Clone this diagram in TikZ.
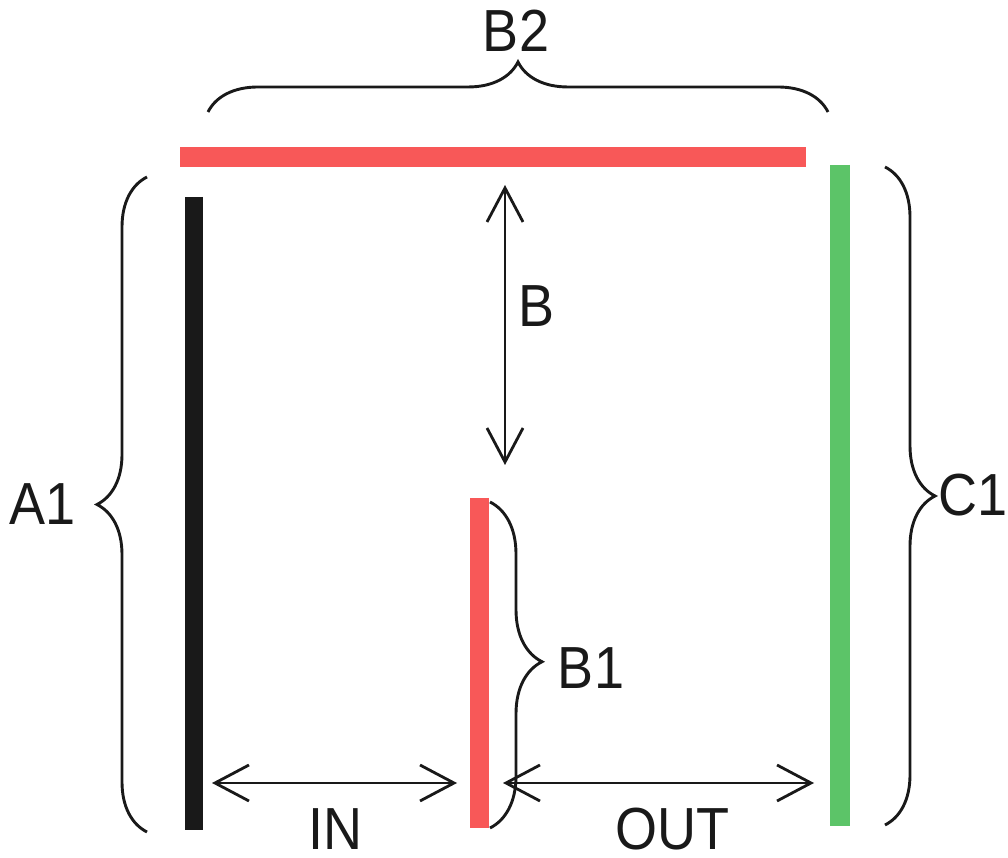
\documentclass[tikz,border=0pt]{standalone}
\usepackage{fontspec}
\setmainfont{Liberation Sans}
\usetikzlibrary{arrows.meta,decorations.pathreplacing}
\definecolor{barred}{RGB}{248,88,88}
\definecolor{bargreen}{RGB}{92,196,104}
\definecolor{ink}{RGB}{25,25,25}
\begin{document}
\begin{tikzpicture}[x=1pt,y=1pt,
  lbl/.style={inner sep=0pt,text=ink,font=\fontsize{54}{60}\selectfont},
  bar/.style={line width=20pt},
  curly/.style={draw=ink,line width=2.9pt,decorate,decoration={brace,amplitude=50pt,aspect=0.5}},
  dimarrow/.style={draw=ink,line width=2.8pt,{Straight Barb[length=34pt,width=36pt]}-{Straight Barb[length=34pt,width=36pt]}}
]
\useasboundingbox (0,0) rectangle (1008,858);
% bar end points
\coordinate (topL) at (180,701);
\coordinate (topR) at (806,701);
\coordinate (blkT) at (194,661);
\coordinate (blkB) at (194,28);
\coordinate (grnT) at (840,693);
\coordinate (grnB) at (840,32);
\coordinate (redT) at (479,360);
\coordinate (redB) at (479,30);
% bars
\draw[bar,barred] (topL) -- (topR);
\draw[bar,ink,line width=18pt] (blkT) -- (blkB);
\draw[bar,bargreen] (grnT) -- (grnB);
\draw[bar,barred,line width=19pt] (redT) -- (redB);
% brace ends
\coordinate (b2s) at (208,746);
\coordinate (b2e) at (828,746);
\coordinate (a1s) at (147,26);
\coordinate (a1e) at (147,681);
\coordinate (c1s) at (885,691);
\coordinate (c1e) at (885,33);
\coordinate (b1s) at (490,356);
\coordinate (b1e) at (490,30);
\draw[curly] (b2s) -- (b2e);
\draw[curly] (a1s) -- (a1e);
\draw[curly] (c1s) -- (c1e);
\draw[curly,decoration={brace,amplitude=52pt,aspect=0.49}] (b1s) -- (b1e);
% arrow end points
\coordinate (bT) at (505,673);
\coordinate (bB) at (505,393);
\coordinate (inL) at (212,75);
\coordinate (inR) at (457,75);
\coordinate (outL) at (503,75);
\coordinate (outR) at (814,75);
\draw[dimarrow] (bT) -- (bB);
\draw[dimarrow] (inL) -- (inR);
\draw[dimarrow] (outL) -- (outR);
% labels
\node[lbl] (lB2) at (516,827) {\scalebox{1}[1.1]{B2}};
\node[lbl] (lA1) at (43,354) {\scalebox{1}[1.1]{A1}};
\node[lbl] (lC1) at (973,363) {\scalebox{1}[1.1]{C1}};
\node[lbl] (lB) at (536,552) {\scalebox{1}[1.1]{B}};
\node[lbl] (lB1) at (591,190) {\scalebox{1}[1.1]{B1}};
\node[lbl] (lIN) at (335,29) {\scalebox{1}[1.1]{IN}};
\node[lbl] (lOUT) at (672,29) {\scalebox{1}[1.1]{OUT}};
\end{tikzpicture}
\end{document}
